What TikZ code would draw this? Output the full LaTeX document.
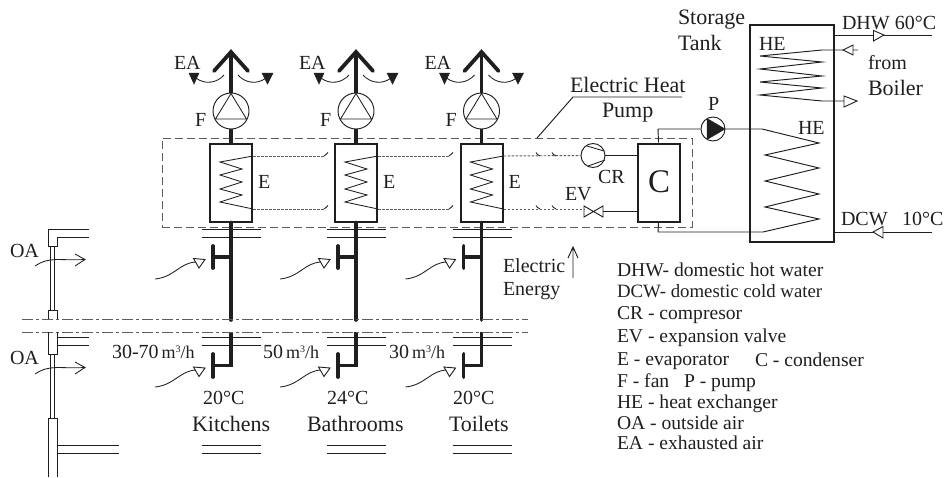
\documentclass[tikz,border=0pt]{standalone}
\usepackage{fontspec}
\setmainfont{Liberation Serif}
\definecolor{ink}{gray}{0.12}
\definecolor{dashgrey}{gray}{0.36}
\newcommand{\fs}[1]{\fontsize{#1}{#1}\selectfont}
\newcommand{\mh}[1]{{#1}\fs{18}\,m\raisebox{6pt}{\fs{10}3}/h}
\tikzset{
  thin line/.style={draw=ink,line width=0.95pt},
  hair/.style={draw=ink,line width=0.85pt},
  wall/.style={draw=ink,line width=0.85pt},
  pipe/.style={draw=ink,line width=3.6pt},
  duct/.style={draw=ink,line width=3.8pt,line cap=round},
  boxline/.style={draw=ink,line width=2pt},
  dashbox/.style={draw=dashgrey,line width=0.9pt,dash pattern=on 8pt off 4pt},
  refline/.style={draw=dashgrey,line width=0.95pt,dash pattern=on 2.6pt off 1.4pt},
  axisline/.style={draw=dashgrey,line width=0.9pt,dash pattern=on 11pt off 3pt on 3pt off 3pt},
  lab/.style={anchor=base west,inner sep=0pt,outer sep=0pt,text=ink,font=\fs{20}},
  big/.style={lab,font=\fs{22}},
  legend/.style={lab,font=\fs{19.6}},
  opentip/.style={draw=ink,line width=0.9pt,fill=white,line join=miter},
  filltip/.style={draw=ink,fill=ink,line width=0.5pt},
}
\newcommand{\column}[2]{%
  \begin{scope}[shift={(#1,0)}]
    \coordinate (top#2) at (231,52);
    \node[circle,thin line,minimum size=36pt,inner sep=0pt] (fan#2) at (231,111) {};
    \draw[pipe] (top#2) -- (fan#2.north);
    \draw[duct,line join=miter] (214,71) -- (top#2) -- (248,71);
    \draw[hair] (231,93.5) -- (215.5,119) -- (246.5,119) -- cycle;
    \node[boxline,minimum width=42pt,minimum height=78pt,inner sep=0pt] (evap#2) at (231,182.5) {};
    \draw[pipe] (fan#2.south) -- (evap#2.north);
    \draw[hair] (evap#2.east |- 0,156) coordinate (ein#2) -- (220,162) -- (242,169) -- (220,175) -- (242,182) -- (220,189) -- (242,195) -- (220,202) -- (evap#2.east |- 0,209) coordinate (eout#2);
    \draw[hair] (224,75) .. controls (217,83) and (205,85) .. (196,78);
    \draw[hair] (238,75) .. controls (245,83) and (257,85) .. (266,78);
    \draw[filltip] (189,73) -- (199,73) -- (194,84) -- cycle;
    \draw[filltip] (262,73) -- (273,73) -- (267.5,84) -- cycle;
    \node[lab] (ea#2) at (174,69) {EA};
    \node[lab] (flab#2) at (195,126) {F};
    \node[lab] (elab#2) at (258,188) {E};
    \coordinate (brk#2) at (231,320);
    \draw[pipe,line cap=round] (evap#2.south) -- (brk#2);
    \draw[draw=ink,line width=3.4pt] (231,257) -- (213,257);
    \draw[duct] (213,246) -- (213,268);
    \coordinate (low#2) at (231,332);
    \draw[pipe,line join=miter] (low#2) -- (231,365.5) -- (213,365.5);
    \draw[duct] (213,354) -- (213,377);
    \draw[hair] (155,279) .. controls (175,277) and (180,262) .. (197,262);
    \draw[opentip] (193.5,258.5) -- (205,259.5) -- (199,268) -- cycle;
    \draw[hair] (155,387) .. controls (175,385) and (180,370) .. (197,370);
    \draw[opentip] (193.5,367) -- (205,368) -- (199,376.5) -- cycle;
    \draw[wall] (202,229) -- (261,229) (202,237) -- (261,237);
    \draw[wall] (202,337) -- (261,337) (202,345) -- (261,345);
    \draw[wall] (202,445) -- (261,445) (202,453) -- (261,453);
  \end{scope}
}
\newcommand{\hook}[2]{\draw[hair] (#1,#2) .. controls (#1+2,#2) and (#1+2,#2-3) .. (#1+4,#2-3.5);}
\newcommand{\hookb}[2]{\draw[hair] (#1,#2-3.5) .. controls (#1+1.5,#2-3) and (#1+1,#2) .. (#1+4,#2);}
\begin{document}
\begin{tikzpicture}[x=1pt,y=-1pt]
\useasboundingbox (0,0) rectangle (944,477);
\node[dashbox,minimum width=530pt,minimum height=89pt,inner sep=0pt] (hp) at (427,182.5) {};
\column{0}{a}
\column{125}{b}
\column{250.5}{c}
\draw[refline] (eina) -- (324,156); \hook{324}{156}
\draw[refline] (eouta) -- (324,209); \hook{324}{209}
\draw[refline] (einb) -- (449,156); \hook{449}{156}
\draw[refline] (eoutb) -- (449,209); \hook{449}{209}
\node[circle,thin line,minimum size=24pt,inner sep=0pt] (cr) at (593,155.5) {};
\draw[hair] (587,146) -- (604,151) (588,166) -- (605,160);
\coordinate (ev) at (593.5,211);
\draw[thin line,line join=miter] (584,206) -- (603,217) -- (603,206) -- (584,217) -- cycle;
\node[boxline,minimum width=42pt,minimum height=78pt,inner sep=0pt] (cond) at (658.5,182.5) {};
\draw[refline] (einc) -- (cr.west);
\draw[refline] (eoutc) -- (584,209);
\draw[thin line] (cr.east) -- (cond.west |- cr.east);
\draw[thin line] (603,211) -- (cond.west |- ev);
\hookb{536}{156}\hookb{552}{156}\hookb{536}{209}\hookb{552}{209}
\node[boxline,minimum width=84pt,minimum height=217pt,inner sep=0pt] (tank) at (791.5,133.5) {};
\node[circle,thin line,minimum size=24pt,inner sep=0pt] (pump) at (713,129) {};
\draw[filltip] (707,118.5) -- (725,129) -- (707,139.5) -- cycle;
\draw[thin line] (cond.north) -- (658,129) -- (pump.west);
\coordinate (he2a) at (762,129);
\coordinate (he2b) at (763,232);
\draw[thin line] (pump.east) -- (he2a) -- (819,143) -- (765,155) -- (819,168) -- (765,181) -- (819,194) -- (765,207) -- (819,219) -- (he2b) -- (658,232) -- (cond.south);
\coordinate (he1a) at (822,50);
\coordinate (he1b) at (822,101);
\coordinate (bin) at (858,50);
\coordinate (bout) at (857,101);
\draw[thin line] (bin) -- (he1a) -- (760,56) -- (822,62) -- (760,69) -- (822,76) -- (760,82) -- (822,88) -- (760,95) -- (he1b) -- (bout);
\draw[opentip] (853,45) -- (843,50) -- (853,55) -- cycle;
\draw[opentip] (844,96) -- (857,101) -- (844,107) -- cycle;
\coordinate (dhw) at (932,35);
\coordinate (dcw) at (932,232);
\draw[thin line] (tank.east |- dhw) -- (dhw);
\draw[thin line] (tank.east |- dcw) -- (dcw);
\draw[opentip] (873.5,30.5) -- (884,35) -- (873.5,41) -- cycle;
\draw[opentip] (883,226.5) -- (873,232) -- (883,238) -- cycle;
\coordinate (l0) at (537,138);
\coordinate (l1) at (573,97);
\coordinate (l2) at (682,97);
\draw[thin line] (l0) -- (l1) -- (l2);
\coordinate (ee0) at (573,278);
\coordinate (ee1) at (573,247);
\draw[thin line] (ee0) -- (ee1) (568,258) -- (ee1) -- (578,258);
\coordinate (ax1a) at (22,319);\coordinate (ax1b) at (528,319);
\coordinate (ax2a) at (22,332);\coordinate (ax2b) at (528,332);
\draw[axisline] (ax1a) -- (ax1b);
\draw[axisline] (ax2a) -- (ax2b);
\draw[wall] (89,229) -- (48,229) -- (48,246) -- (57,246) -- (57,237) -- (89,237);
\draw[wall] (50.5,246) -- (50.5,310) (54.5,246) -- (54.5,310);
\draw[wall] (48,319) -- (48,310) -- (57,310) -- (57,319);
\draw[wall] (48,332) -- (48,354) -- (57,354) -- (57,332);
\draw[wall] (57,337) -- (89,337) (57,345) -- (89,345);
\draw[wall] (50.5,354) -- (50.5,418) (54.5,354) -- (54.5,418);
\draw[wall] (48,477) -- (48,418) -- (57,418) -- (57,477);
\draw[wall] (57,445) -- (119,445) (57,453) -- (119,453);
\draw[hair] (35,266) .. controls (50,256) and (60,261) .. (85,259.5);
\draw[hair] (75,254) -- (85,259.5) -- (75,266);
\draw[hair] (35,374) .. controls (50,364) and (60,369) .. (85,367.5);
\draw[hair] (75,362) -- (85,367.5) -- (75,374);
\node[lab] (oa1) at (10,257) {OA};
\node[lab] (oa2) at (10,364) {OA};
\node[lab] (q1) at (112,358) {\mh{30-70}};
\node[lab] (q2) at (263,358) {\mh{50}};
\node[lab] (q3) at (389,358) {\mh{30}};
\node[lab] (t1) at (203,404) {20°C};
\node[lab] (t2) at (327,404) {24°C};
\node[lab] (t3) at (453,404) {20°C};
\node[big] (r1) at (192,431) {Kitchens};
\node[big] (r2) at (307,431) {Bathrooms};
\node[big] (r3) at (449,431) {Toilets};
\node[lab] (cr1) at (598,183) {CR};
\node[lab] (ev1) at (565,200) {EV};
\node[lab,font=\fs{33}] (c1) at (648,192) {C};
\node[big] (ehp1) at (570,92) {Electric Heat};
\node[big] (ehp2) at (602,117) {Pump};
\node[lab] (p1) at (708,110) {P};
\node[big] (st1) at (678,24) {Storage};
\node[big] (st2) at (678,50) {Tank};
\node[lab] (he1) at (759,50) {HE};
\node[lab] (he2) at (798,134) {HE};
\node[lab] (fr) at (868,69) {from};
\node[big] (bo) at (868,95) {Boiler};
\node[lab] (dhwt) at (842,29) {DHW 60°C};
\node[lab] (dcwt) at (841,225) {DCW};
\node[lab] (dcwv) at (902,225) {10°C};
\node[lab] (ee1t) at (503,272) {Electric};
\node[lab] (ee2t) at (503,295) {Energy};
\node[legend] (k1) at (617,276) {DHW- domestic hot water};
\node[legend,font=\fs{18.8}] (k2) at (617,297) {DCW- domestic cold water};
\node[legend] (k3) at (617,319) {CR - compresor};
\node[legend] (k4) at (617,342) {EV - expansion valve};
\node[legend] (k5) at (617,365) {E - evaporator};
\node[legend] (k5b) at (755,366) {C - condenser};
\node[legend] (k6) at (617,387) {F - fan};
\node[legend] (k6b) at (684,387) {P - pump};
\node[legend] (k7) at (617,408) {HE - heat exchanger};
\node[legend] (k8) at (617,429) {OA - outside air};
\node[legend] (k9) at (617,449) {EA - exhausted air};
\end{tikzpicture}
\end{document}
